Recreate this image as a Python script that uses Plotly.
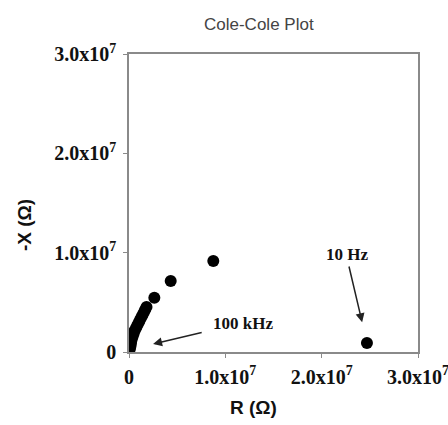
import plotly.graph_objects as go

# Impedance data (ohms): real part R and negative imaginary part -X
r_ohm = [2.47e7, 8.75e6, 4.33e6, 2.63e6, 1.82e6, 1.66e6, 1.51e6, 1.35e6, 1.19e6,
         1.04e6, 0.88e6, 0.73e6, 0.57e6, 0.47e6, 0.36e6, 0.26e6, 0.21e6, 0.16e6,
         0.10e6, 0.05e6]
negx_ohm = [0.90e6, 9.16e6, 7.15e6, 5.47e6, 4.53e6, 4.23e6, 3.93e6, 3.63e6, 3.32e6,
            3.02e6, 2.72e6, 2.42e6, 2.11e6, 1.81e6, 1.51e6, 1.21e6, 0.91e6, 0.60e6,
            0.40e6, 0.20e6]

tick_vals = [0, 1e7, 2e7, 3e7]
tick_text = ["0", "1.0x10<sup>7</sup>", "2.0x10<sup>7</sup>", "3.0x10<sup>7</sup>"]

tick_font = dict(family="Liberation Serif", size=20, color="#111", weight="bold")
axis_color = "#8a8a8a"

fig = go.Figure()
fig.add_trace(go.Scatter(
    x=r_ohm, y=negx_ohm, mode="markers",
    marker=dict(color="black", size=12),
    showlegend=False,
))

fig.update_xaxes(
    range=[0, 3e7], tickvals=tick_vals, ticktext=tick_text, tickfont=tick_font,
    showgrid=False, zeroline=False, showline=True, linecolor=axis_color,
    linewidth=1.5, mirror=True, ticks="outside", ticklen=4, tickcolor=axis_color,
    ticklabelstandoff=2, ticklabeloverflow="allow", automargin=False,
)
fig.update_yaxes(
    range=[0, 3e7], tickvals=tick_vals, ticktext=tick_text, tickfont=tick_font,
    showgrid=False, zeroline=False, showline=True, linecolor=axis_color,
    linewidth=1.5, mirror=True, ticks="outside", ticklen=4, tickcolor=axis_color,
    ticklabelstandoff=3, ticklabeloverflow="allow", automargin=False,
)

annot_font = dict(family="Liberation Serif", size=17, color="#111", weight="bold")
fig.add_annotation(x=2.42e7, y=3.0e6, ax=2.28e7, ay=8.76e6, axref="x", ayref="y",
                   text="", showarrow=True, arrowhead=2, arrowsize=1.2,
                   arrowwidth=1.5, arrowcolor="#222")
fig.add_annotation(x=2.26e7, y=9.77e6, text="10 Hz", showarrow=False, font=annot_font)
fig.add_annotation(x=2.5e6, y=0.8e6, ax=7.7e6, ay=2.0e6, axref="x", ayref="y",
                   text="", showarrow=True, arrowhead=2, arrowsize=1.2,
                   arrowwidth=1.5, arrowcolor="#222")
fig.add_annotation(x=1.18e7, y=2.9e6, text="100 kHz", showarrow=False, font=annot_font)

# Plot-area geometry in pixels
W, H = 448, 425
L, R, T, B = 129, 30, 54, 73
pw, ph = W - L - R, H - T - B


def px_to_paper(px, py):
    return (px - L) / pw, (H - B - py) / ph


# Title and axis titles, positioned by pixel centre
title_specs = [
    ("Cole-Cole Plot", (259, 24), 0, dict(family="Liberation Sans", size=17, color="#444")),
    ("R (Ω)", (253, 407), 0, dict(family="Liberation Sans", size=19, color="#111", weight="bold")),
    ("-X (Ω)", (24, 225), -90, dict(family="Liberation Sans", size=19, color="#111", weight="bold")),
]
for text, (px, py), angle, font in title_specs:
    xp, yp = px_to_paper(px, py)
    fig.add_annotation(x=xp, y=yp, xref="paper", yref="paper", text=text,
                       textangle=angle, showarrow=False, font=font,
                       xanchor="center", yanchor="middle")

fig.update_layout(
    width=W, height=H, margin=dict(l=L, r=R, t=T, b=B, autoexpand=False),
    paper_bgcolor="white", plot_bgcolor="white",
)

fig.write_html("out.html")
